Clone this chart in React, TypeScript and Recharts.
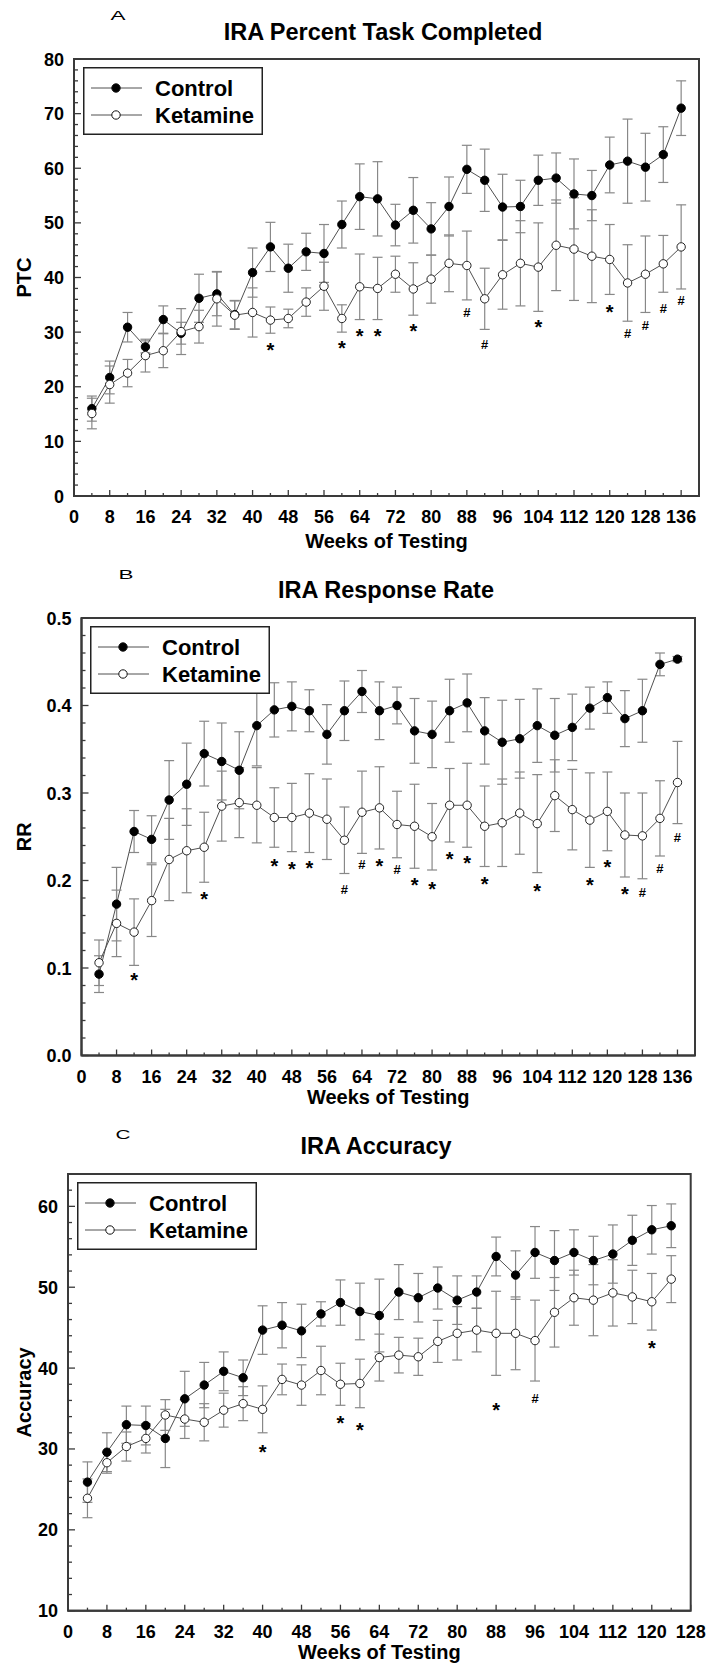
import { ComposedChart, Line, ErrorBar, Scatter, XAxis, YAxis, ReferenceArea, Legend } from "recharts";

const FONT = '"Liberation Sans", Arial, Helvetica, sans-serif';
const AXIS = "#3a3a3a";
const LINE = "#505050";
const BAR = "#888888";

// ---------- Panel A: percent task completed ----------
const weeksA = [4, 8, 12, 16, 20, 24, 28, 32, 36, 40, 44, 48, 52, 56, 60, 64, 68, 72, 76, 80, 84, 88, 92, 96, 100, 104, 108, 112, 116, 120, 124, 128, 132, 136];
const controlA = [16.0, 21.7, 30.9, 27.3, 32.3, 29.8, 36.2, 37.0, 33.2, 40.9, 45.6, 41.7, 44.7, 44.4, 49.7, 54.8, 54.4, 49.6, 52.3, 48.9, 53.0, 59.8, 57.8, 52.9, 53.0, 57.8, 58.2, 55.3, 55.0, 60.6, 61.3, 60.2, 62.5, 71.0];
const controlSeA = [2.3, 3.0, 2.7, 1.1, 2.5, 2.0, 4.4, 4.0, 2.6, 4.5, 4.5, 4.4, 3.4, 5.3, 4.3, 6.0, 6.8, 3.8, 6.0, 4.8, 5.4, 4.4, 5.7, 6.0, 4.8, 4.6, 4.6, 6.4, 4.6, 5.1, 7.7, 6.2, 5.1, 5.0];
const ketamineA = [15.1, 20.4, 22.5, 25.7, 26.6, 30.1, 31.0, 36.1, 33.1, 33.6, 32.2, 32.5, 35.5, 38.4, 32.5, 38.3, 38.0, 40.6, 37.9, 39.7, 42.6, 42.2, 36.1, 40.5, 42.6, 41.9, 45.9, 45.2, 43.9, 43.3, 39.0, 40.6, 42.5, 45.6];
const ketamineSeA = [2.8, 3.4, 2.5, 3.0, 3.1, 4.2, 3.0, 5.0, 2.6, 4.5, 2.4, 1.7, 2.6, 4.4, 2.5, 6.0, 5.7, 3.3, 4.8, 4.4, 5.2, 6.3, 5.6, 6.3, 7.8, 8.1, 8.3, 9.4, 8.5, 6.4, 7.0, 7.0, 5.2, 7.7];
const markWeeksA = [44, 60, 64, 68, 76, 88, 92, 104, 120, 124, 128, 132, 136];
const markValuesA = [27.5, 27.8, 30.1, 30.1, 31.0, 33.7, 27.9, 31.7, 34.5, 29.8, 31.3, 34.5, 35.9];
const markSymbolsA = ["*", "*", "*", "*", "*", "#", "#", "*", "*", "#", "#", "#", "#"];
const xTicksAB = [0, 4, 8, 12, 16, 20, 24, 28, 32, 36, 40, 44, 48, 52, 56, 60, 64, 68, 72, 76, 80, 84, 88, 92, 96, 100, 104, 108, 112, 116, 120, 124, 128, 132, 136, 140];
const yTicksA = [0, 2, 4, 6, 8, 10, 12, 14, 16, 18, 20, 22, 24, 26, 28, 30, 32, 34, 36, 38, 40, 42, 44, 46, 48, 50, 52, 54, 56, 58, 60, 62, 64, 66, 68, 70, 72, 74, 76, 78, 80];

// ---------- Panel B: response rate ----------
const weeksB = [4, 8, 12, 16, 20, 24, 28, 32, 36, 40, 44, 48, 52, 56, 60, 64, 68, 72, 76, 80, 84, 88, 92, 96, 100, 104, 108, 112, 116, 120, 124, 128, 132, 136];
const controlB = [0.093, 0.173, 0.256, 0.247, 0.292, 0.310, 0.345, 0.336, 0.326, 0.377, 0.395, 0.399, 0.394, 0.367, 0.394, 0.416, 0.394, 0.400, 0.371, 0.367, 0.394, 0.403, 0.371, 0.358, 0.362, 0.377, 0.366, 0.375, 0.397, 0.409, 0.385, 0.394, 0.447, 0.453];
const controlSeB = [0.021, 0.042, 0.024, 0.027, 0.045, 0.047, 0.037, 0.044, 0.044, 0.046, 0.031, 0.028, 0.024, 0.034, 0.034, 0.024, 0.033, 0.021, 0.037, 0.038, 0.036, 0.033, 0.038, 0.048, 0.045, 0.042, 0.042, 0.038, 0.024, 0.018, 0.032, 0.036, 0.013, 0.003];
const ketamineB = [0.106, 0.151, 0.141, 0.177, 0.224, 0.234, 0.238, 0.285, 0.289, 0.286, 0.272, 0.272, 0.277, 0.270, 0.246, 0.278, 0.283, 0.264, 0.262, 0.250, 0.286, 0.286, 0.262, 0.266, 0.277, 0.265, 0.297, 0.281, 0.269, 0.279, 0.252, 0.251, 0.271, 0.312];
const ketamineSeB = [0.026, 0.038, 0.038, 0.041, 0.047, 0.048, 0.040, 0.040, 0.040, 0.043, 0.034, 0.039, 0.045, 0.046, 0.038, 0.047, 0.047, 0.038, 0.048, 0.038, 0.042, 0.048, 0.046, 0.050, 0.047, 0.056, 0.041, 0.046, 0.054, 0.045, 0.048, 0.049, 0.043, 0.047];
const markWeeksB = [12, 28, 44, 48, 52, 60, 64, 68, 72, 76, 80, 84, 88, 92, 104, 116, 120, 124, 128, 132, 136];
const markValuesB = [0.091, 0.183, 0.221, 0.218, 0.219, 0.190, 0.219, 0.221, 0.213, 0.199, 0.195, 0.229, 0.225, 0.201, 0.193, 0.199, 0.220, 0.189, 0.187, 0.214, 0.250];
const markSymbolsB = ["*", "*", "*", "*", "*", "#", "#", "*", "#", "*", "*", "*", "*", "*", "*", "*", "*", "*", "#", "#", "#"];
const yTicksB = [0, 0.02, 0.04, 0.06, 0.08, 0.1, 0.12, 0.14, 0.16, 0.18, 0.2, 0.22, 0.24, 0.26, 0.28, 0.3, 0.32, 0.34, 0.36, 0.38, 0.4, 0.42, 0.44, 0.46, 0.48, 0.5];

// ---------- Panel C: accuracy ----------
const weeksC = [4, 8, 12, 16, 20, 24, 28, 32, 36, 40, 44, 48, 52, 56, 60, 64, 68, 72, 76, 80, 84, 88, 92, 96, 100, 104, 108, 112, 116, 120, 124];
const controlC = [25.9, 29.6, 33.0, 32.9, 31.3, 36.2, 37.9, 39.6, 38.8, 44.7, 45.3, 44.6, 46.7, 48.1, 47.0, 46.5, 49.4, 48.7, 49.9, 48.4, 49.4, 53.8, 51.5, 54.3, 53.3, 54.3, 53.3, 54.1, 55.8, 57.1, 57.6];
const controlSeC = [2.5, 2.4, 2.3, 2.4, 3.6, 3.4, 2.8, 2.4, 2.2, 3.0, 2.8, 3.3, 1.5, 2.8, 3.5, 4.5, 3.4, 3.0, 2.6, 3.0, 2.0, 2.4, 3.0, 3.2, 3.7, 2.8, 3.0, 3.6, 3.1, 3.0, 2.7];
const ketamineC = [23.9, 28.3, 30.3, 31.3, 34.2, 33.7, 33.3, 34.8, 35.6, 34.9, 38.6, 37.9, 39.7, 38.0, 38.1, 41.3, 41.6, 41.4, 43.3, 44.3, 44.7, 44.3, 44.3, 43.4, 46.9, 48.7, 48.4, 49.3, 48.8, 48.2, 51.0];
const ketamineSeC = [2.4, 1.3, 1.8, 1.8, 1.9, 2.4, 2.3, 2.1, 2.1, 2.9, 1.9, 2.5, 3.0, 2.6, 3.0, 2.9, 2.2, 2.3, 2.6, 3.3, 2.7, 5.2, 4.5, 5.0, 4.3, 3.4, 4.4, 4.1, 3.3, 3.5, 2.9];
const markWeeksC = [40, 56, 60, 88, 96, 120];
const markValuesC = [30.1, 33.7, 32.9, 35.3, 36.3, 43.0];
const markSymbolsC = ["*", "*", "*", "*", "#", "*"];
const xTicksC = [0, 4, 8, 12, 16, 20, 24, 28, 32, 36, 40, 44, 48, 52, 56, 60, 64, 68, 72, 76, 80, 84, 88, 92, 96, 100, 104, 108, 112, 116, 120, 124, 128];
const yTicksC = [10, 12, 14, 16, 18, 20, 22, 24, 26, 28, 30, 32, 34, 36, 38, 40, 42, 44, 46, 48, 50, 52, 54, 56, 58, 60, 62, 64];

function buildRows(weeks: number[], c: number[], cSe: number[], k: number[], kSe: number[]) {
  return weeks.map((week, i) => ({ week, control: c[i], controlSe: cSe[i], ketamine: k[i], ketamineSe: kSe[i] }));
}

function buildMarks(weeks: number[], values: number[], symbols: string[]) {
  return weeks.map((week, i) => ({ week, v: values[i], mark: symbols[i] }));
}

const isTenth = (v: number) => Math.abs(v * 10 - Math.round(v * 10)) < 1e-6;
const isTen = (v: number) => v % 10 === 0;

function makeXTick() {
  return (props: any) => {
    const { x, y, payload } = props;
    const v = payload.value;
    const major = v % 8 === 0;
    return (
      <g>
        <line x1={x} x2={x} y1={y} y2={y - (major ? 6 : 3)} stroke={AXIS} strokeWidth={1.3} />
        {major ? (
          <text x={x} y={y + 27} textAnchor="middle" fontSize={18} fontWeight="bold" fontFamily={FONT} fill="#000">
            {v}
          </text>
        ) : null}
      </g>
    );
  };
}

function makeYTick(isMajor: (v: number) => boolean, fmt: (v: number) => string) {
  return (props: any) => {
    const { x, y, payload } = props;
    const v = payload.value;
    const major = isMajor(v);
    return (
      <g>
        <line x1={x} x2={x + (major ? 7 : 4)} y1={y} y2={y} stroke={AXIS} strokeWidth={1.3} />
        {major ? (
          <text x={x - 10} y={y + 6.5} textAnchor="end" fontSize={18} fontWeight="bold" fontFamily={FONT} fill="#000">
            {fmt(v)}
          </text>
        ) : null}
      </g>
    );
  };
}

// significance marks under the ketamine error bars
function MarkShape(props: any) {
  const { cx, cy, payload } = props;
  const star = payload.mark === "*";
  return (
    <text x={cx} y={cy + (star ? 11 : 5)} textAnchor="middle" fontSize={star ? 20 : 13} fontWeight="bold" fontFamily={FONT} fill="#000">
      {payload.mark}
    </text>
  );
}

function LegendBox({ payload }: any) {
  const items = (payload || []).filter((d: any) => d.type !== "none");
  return (
    <svg width={180} height={68} style={{ display: "block" }}>
      <rect x={0.75} y={0.75} width={178.5} height={66.5} fill="#fff" stroke="#222" strokeWidth={1.5} />
      {items.map((d: any, i: number) => {
        const cy = 21 + 27 * i;
        const filled = d.dataKey === "control";
        return (
          <g key={d.value}>
            <line x1={8} x2={59} y1={cy} y2={cy} stroke={LINE} strokeWidth={1} />
            <circle cx={33} cy={cy} r={4.2} fill={filled ? "#000" : "#fff"} stroke="#111" strokeWidth={1} />
            <text x={72} y={cy + 8} fontSize={22} fontWeight="bold" fontFamily={FONT} fill="#000">
              {d.value}
            </text>
          </g>
        );
      })}
    </svg>
  );
}

type PanelProps = {
  top: number;
  height: number;
  margin: { top: number; right: number; bottom: number; left: number };
  yAxisWidth: number;
  xAxisHeight: number;
  rows: any[];
  marks: any[];
  xMax: number;
  xTicks: number[];
  yDomain: [number, number];
  yTicks: number[];
  yMajor: (v: number) => boolean;
  yFmt: (v: number) => string;
  yLabel: string;
  title: string;
  titleX: number;
  titleY: number;
  letter: string;
  letterX: number;
  letterY: number;
  legendLeft: number;
  legendTop: number;
};

function Panel(p: PanelProps) {
  return (
    <div style={{ position: "absolute", left: 0, top: p.top, width: 708, height: p.height }}>
      <ComposedChart width={708} height={p.height} data={p.rows} margin={p.margin}>
        <XAxis
          dataKey="week"
          type="number"
          domain={[0, p.xMax]}
          ticks={p.xTicks}
          interval={0}
          allowDataOverflow
          tickSize={0}
          tickMargin={0}
          tickLine={false}
          tick={makeXTick()}
          axisLine={{ stroke: AXIS, strokeWidth: 2 }}
          height={p.xAxisHeight}
          label={{ value: "Weeks of Testing", position: "insideBottom", offset: 0, fontSize: 20, fontWeight: "bold", fontFamily: FONT, fill: "#000" }}
        />
        <YAxis
          type="number"
          domain={p.yDomain}
          ticks={p.yTicks}
          interval={0}
          allowDataOverflow
          tickSize={0}
          tickMargin={0}
          tickLine={false}
          tick={makeYTick(p.yMajor, p.yFmt)}
          axisLine={{ stroke: AXIS, strokeWidth: 2 }}
          width={p.yAxisWidth}
          label={{ value: p.yLabel, angle: -90, position: "insideLeft", offset: 12, fontSize: 20, fontWeight: "bold", fontFamily: FONT, fill: "#000", style: { textAnchor: "middle" } }}
        />
        <ReferenceArea x1={0} x2={p.xMax} y1={p.yDomain[0]} y2={p.yDomain[1]} fill="none" stroke={AXIS} strokeWidth={2} />
        <Line
          dataKey="control"
          name="Control"
          stroke={LINE}
          strokeWidth={1}
          isAnimationActive={false}
          activeDot={false}
          dot={{ r: 4.2, fill: "#000", stroke: "#000", strokeWidth: 1 }}
        >
          <ErrorBar dataKey="controlSe" width={5} stroke={BAR} strokeWidth={1.2} direction="y" isAnimationActive={false} />
        </Line>
        <Line
          dataKey="ketamine"
          name="Ketamine"
          stroke={LINE}
          strokeWidth={1}
          isAnimationActive={false}
          activeDot={false}
          dot={{ r: 4.2, fill: "#fff", stroke: "#222", strokeWidth: 1 }}
        >
          <ErrorBar dataKey="ketamineSe" width={5} stroke={BAR} strokeWidth={1.2} direction="y" isAnimationActive={false} />
        </Line>
        <Scatter data={p.marks} dataKey="v" shape={MarkShape} legendType="none" isAnimationActive={false} />
        <Legend
          layout="horizontal"
          verticalAlign="middle"
          align="center"
          content={<LegendBox />}
          wrapperStyle={{ left: p.legendLeft, top: p.legendTop, width: 180, height: 68 }}
        />
      </ComposedChart>
      <svg width={708} height={64} style={{ position: "absolute", left: 0, top: 0, pointerEvents: "none" }}>
        <text x={p.letterX} y={p.letterY} textAnchor="middle" fontSize={12.5} fontFamily={FONT} fill="#000" textLength={15} lengthAdjust="spacingAndGlyphs">
          {p.letter}
        </text>
        <text x={p.titleX} y={p.titleY} textAnchor="middle" fontSize={23.5} fontWeight="bold" fontFamily={FONT} fill="#000">
          {p.title}
        </text>
      </svg>
    </div>
  );
}

export default function App() {
  return (
    <div style={{ position: "absolute", left: 0, top: 0, width: 708, height: 1668, background: "#fff", fontFamily: FONT }}>
      <Panel
        top={0}
        height={560}
        margin={{ top: 59, right: 9, bottom: 12, left: 12 }}
        yAxisWidth={62}
        xAxisHeight={52}
        rows={buildRows(weeksA, controlA, controlSeA, ketamineA, ketamineSeA)}
        marks={buildMarks(markWeeksA, markValuesA, markSymbolsA)}
        xMax={140}
        xTicks={xTicksAB}
        yDomain={[0, 80]}
        yTicks={yTicksA}
        yMajor={isTen}
        yFmt={(v) => String(v)}
        yLabel="PTC"
        title="IRA Percent Task Completed"
        titleX={383}
        titleY={39.5}
        letter="A"
        letterX={118}
        letterY={20}
        legendLeft={83}
        legendTop={67}
      />
      <Panel
        top={560}
        height={555}
        margin={{ top: 58, right: 13, bottom: 11, left: 12 }}
        yAxisWidth={69.5}
        xAxisHeight={48.5}
        rows={buildRows(weeksB, controlB, controlSeB, ketamineB, ketamineSeB)}
        marks={buildMarks(markWeeksB, markValuesB, markSymbolsB)}
        xMax={140}
        xTicks={xTicksAB}
        yDomain={[0, 0.5]}
        yTicks={yTicksB}
        yMajor={isTenth}
        yFmt={(v) => v.toFixed(1)}
        yLabel="RR"
        title="IRA Response Rate"
        titleX={386}
        titleY={38}
        letter="B"
        letterX={126}
        letterY={19}
        legendLeft={90}
        legendTop={66}
      />
      <Panel
        top={1115}
        height={553}
        margin={{ top: 59, right: 17.3, bottom: 9, left: 12 }}
        yAxisWidth={56}
        xAxisHeight={48.3}
        rows={buildRows(weeksC, controlC, controlSeC, ketamineC, ketamineSeC)}
        marks={buildMarks(markWeeksC, markValuesC, markSymbolsC)}
        xMax={128}
        xTicks={xTicksC}
        yDomain={[10, 64]}
        yTicks={yTicksC}
        yMajor={isTen}
        yFmt={(v) => String(v)}
        yLabel="Accuracy"
        title="IRA Accuracy"
        titleX={376}
        titleY={39}
        letter="C"
        letterX={123}
        letterY={24}
        legendLeft={77}
        legendTop={67}
      />
    </div>
  );
}
